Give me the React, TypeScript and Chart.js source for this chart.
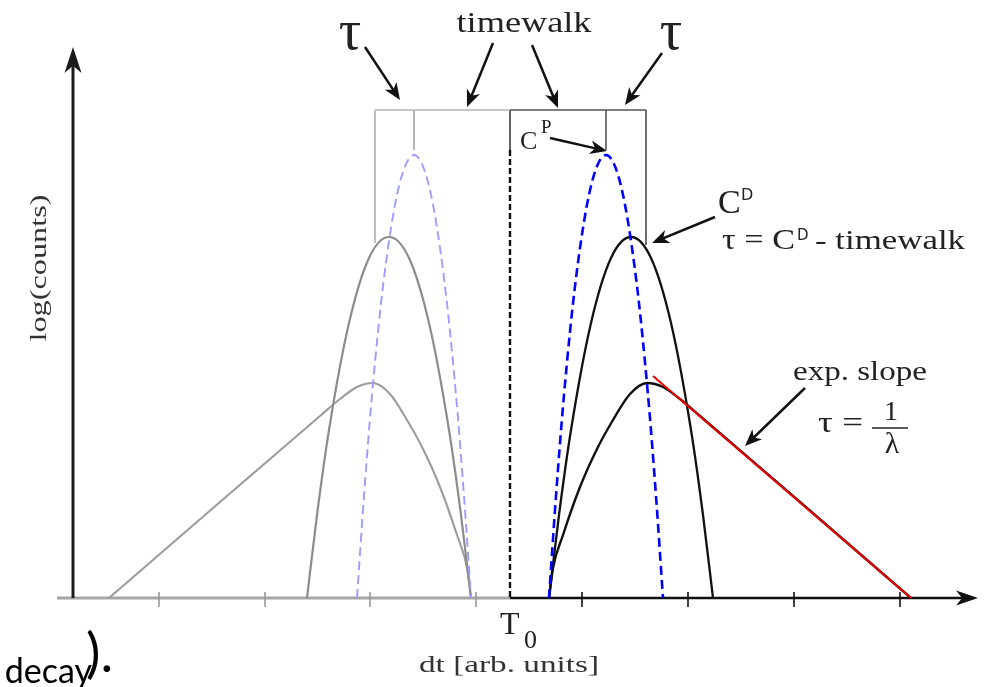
import React, { useEffect, useRef } from 'react';
import { Chart, registerables } from 'chart.js';

Chart.register(...registerables);

// ---- axis ranges (arb. units; T0 at 0) ----
const X_MIN = -5.1;
const X_MAX = 4.82;
const Y_MIN = -0.89;
const Y_MAX = 5.98;

const T0 = 0;
const X_TICKS = [-3.51, -2.45, -1.4, -0.34, 0.72, 1.78, 2.84, 3.9];
const X_AXIS_START = -4.53;
const X_AXIS_END = 4.68;
const Y_AXIS_X = -4.37;
const Y_AXIS_TOP = 5.51;

// ---- prompt (C^P) peak, blue dashed ----
const CP_X = [0.39, 0.46, 0.54, 0.66, 0.81, 0.96, 1.11, 1.26, 1.38, 1.46, 1.53];
const CP_Y = [0, 1.02, 2.03, 3.2, 4.12, 4.43, 4.12, 3.2, 2.03, 1.02, 0];
const CP_MIRROR_X = [-1.53, -1.46, -1.38, -1.26, -1.11, -0.96, -0.81, -0.66, -0.54, -0.46, -0.39];
const CP_MIRROR_Y = [0, 1.02, 2.03, 3.2, 4.12, 4.43, 4.12, 3.2, 2.03, 1.02, 0];

// ---- delayed (C^D) peak, black ----
const CD_X = [0.39, 0.49, 0.61, 0.81, 1.01, 1.21, 1.41, 1.61, 1.81, 1.93, 2.03];
const CD_Y = [0, 0.83, 1.68, 2.75, 3.4, 3.61, 3.4, 2.75, 1.68, 0.83, 0];
const CD_MIRROR_X = [-2.03, -1.93, -1.81, -1.61, -1.41, -1.21, -1.01, -0.81, -0.61, -0.49, -0.39];
const CD_MIRROR_Y = [0, 0.83, 1.68, 2.75, 3.4, 3.61, 3.4, 2.75, 1.68, 0.83, 0];

// ---- decay curve with exponential tail ----
const DECAY_X = [0.39, 0.43, 0.53, 0.7, 0.87, 1.03, 1.2, 1.37, 1.53, 1.7, 1.9, 2.9, 4.01];
const DECAY_Y = [0, 0.3, 0.63, 1.11, 1.49, 1.78, 2.04, 2.15, 2.11, 1.99, 1.82, 0.96, 0];
const DECAY_MIRROR_X = [-4.01, -2.9, -1.9, -1.7, -1.53, -1.37, -1.2, -1.03, -0.87, -0.7, -0.53, -0.43, -0.39];
const DECAY_MIRROR_Y = [0, 0.96, 1.82, 1.99, 2.11, 2.15, 2.04, 1.78, 1.49, 1.11, 0.63, 0.3, 0];

// ---- exponential slope fit ----
const SLOPE_X = [1.43, 4.01];
const SLOPE_Y = [2.22, 0];

// ---- brackets ----
const BRACKET_Y = 4.88;
const MARK_BOTTOM = 4.48;
const LEFT_BOX_X = -1.35;
const LEFT_BOX_BOTTOM = 3.55;
const LEFT_MARK_X = -0.96;
const RIGHT_BOX_X = 1.36;
const RIGHT_BOX_BOTTOM = 3.53;
const RIGHT_MARK_X = 0.96;

// ---- annotation arrows [from, to] ----
const ARROWS: number[][][] = [
  [[-1.45, 5.51], [-1.1, 4.98]],
  [[-0.17, 5.55], [-0.43, 4.91]],
  [[0.22, 5.53], [0.48, 4.9]],
  [[1.52, 5.45], [1.15, 4.93]],
  [[0.4, 4.6], [0.97, 4.47]],
  [[2.05, 3.81], [1.42, 3.55]],
  [[2.95, 2.1], [2.35, 1.52]],
];

const SERIF = '"Liberation Serif", "Times New Roman", serif';
const TEXT_COLOR = '#222';

function mk(xs: number[], ys: number[], color: string, width: number, dash: number[] = [], smooth = false) {
  return {
    data: xs.map((x, i) => ({ x, y: ys[i] })),
    borderColor: color,
    borderWidth: width,
    borderDash: dash,
    pointRadius: 0,
    fill: false,
    tension: 0,
    cubicInterpolationMode: smooth ? 'monotone' : 'default',
    borderCapStyle: 'butt',
  } as any;
}

function seg(ctx: CanvasRenderingContext2D, x1: number, y1: number, x2: number, y2: number, color: string, w: number) {
  ctx.save();
  ctx.strokeStyle = color;
  ctx.lineWidth = w;
  ctx.lineCap = 'butt';
  ctx.beginPath();
  ctx.moveTo(x1, y1);
  ctx.lineTo(x2, y2);
  ctx.stroke();
  ctx.restore();
}

function arrow(ctx: CanvasRenderingContext2D, x1: number, y1: number, x2: number, y2: number, color: string, w: number, len: number, half: number) {
  const dx = x2 - x1, dy = y2 - y1;
  const d = Math.hypot(dx, dy);
  const ux = dx / d, uy = dy / d;
  const nx = -uy, ny = ux;
  seg(ctx, x1, y1, x2 - ux * len * 0.7, y2 - uy * len * 0.7, color, w);
  ctx.save();
  ctx.fillStyle = color;
  ctx.beginPath();
  ctx.moveTo(x2, y2);
  ctx.lineTo(x2 - ux * len + nx * half, y2 - uy * len + ny * half);
  ctx.lineTo(x2 - ux * len * 0.72, y2 - uy * len * 0.72);
  ctx.lineTo(x2 - ux * len - nx * half, y2 - uy * len - ny * half);
  ctx.closePath();
  ctx.fill();
  ctx.restore();
}

function drawText(
  ctx: CanvasRenderingContext2D,
  s: string,
  x: number,
  y: number,
  font: string,
  o: { align?: string; width?: number; color?: string; rot?: number; baseline?: CanvasTextBaseline } = {}
) {
  ctx.save();
  ctx.font = font;
  ctx.fillStyle = o.color || TEXT_COLOR;
  ctx.textAlign = 'left';
  ctx.textBaseline = o.baseline || 'alphabetic';
  const w = ctx.measureText(s).width;
  const sx = o.width ? o.width / w : 1;
  ctx.translate(x, y);
  if (o.rot) ctx.rotate(o.rot);
  ctx.scale(sx, 1);
  const a = o.align || 'left';
  ctx.fillText(s, a === 'center' ? -w / 2 : a === 'right' ? -w : 0, 0);
  ctx.restore();
}

const annotPlugin = {
  id: 'annot',
  beforeDatasetsDraw(chart: any) {
    const ctx: CanvasRenderingContext2D = chart.ctx;
    const X = (v: number) => chart.scales.x.getPixelForValue(v);
    const Y = (v: number) => chart.scales.y.getPixelForValue(v);
    // x axis
    seg(ctx, X(X_AXIS_START), Y(0), X(T0), Y(0), '#a6a6a6', 3);
    arrow(ctx, X(T0), Y(0), X(X_AXIS_END), Y(0), '#111', 2.5, 22, 7.5);
    X_TICKS.forEach((t) => {
      seg(ctx, X(t), Y(0.06), X(t), Y(-0.09), t < T0 ? '#9a9a9a' : '#111', 1.6);
    });
    // y axis
    arrow(ctx, X(Y_AXIS_X), Y(0), X(Y_AXIS_X), Y(Y_AXIS_TOP), '#1a1a1a', 3, 26, 8.5);
  },
  afterDatasetsDraw(chart: any) {
    const ctx: CanvasRenderingContext2D = chart.ctx;
    const X = (v: number) => chart.scales.x.getPixelForValue(v);
    const Y = (v: number) => chart.scales.y.getPixelForValue(v);
    ARROWS.forEach(([a, b]) => arrow(ctx, X(a[0]), Y(a[1]), X(b[0]), Y(b[1]), '#111', 2.5, 17, 7));

    // top labels
    drawText(ctx, 'τ', X(-1.6), Y(5.49), `56px ${SERIF}`, { align: 'center' });
    drawText(ctx, 'τ', X(1.61), Y(5.49), `56px ${SERIF}`, { align: 'center' });
    drawText(ctx, 'timewalk', X(0.14), Y(5.66), `30px ${SERIF}`, { align: 'center', width: 135 });

    // C^P
    drawText(ctx, 'C', X(0.1), Y(4.49), `26px ${SERIF}`);
    drawText(ctx, 'P', X(0.31), Y(4.65), `19px ${SERIF}`);

    // C^D
    drawText(ctx, 'C', X(2.08), Y(3.85), `34px ${SERIF}`);
    drawText(ctx, 'D', X(2.31), Y(3.98), `16px "DejaVu Sans", sans-serif`);
    drawText(ctx, 'τ = C', X(2.12), Y(3.49), `30px ${SERIF}`, { width: 73 });
    drawText(ctx, 'D', X(2.87), Y(3.58), `15px "DejaVu Sans", sans-serif`);
    drawText(ctx, '- timewalk', X(3.05), Y(3.49), `28px ${SERIF}`, { width: 150 });

    // exp slope
    drawText(ctx, 'exp. slope', X(3.5), Y(2.18), `28px ${SERIF}`, { align: 'center', width: 134 });
    drawText(ctx, 'τ =', X(3.08), Y(1.66), `30px ${SERIF}`, { width: 45 });
    drawText(ctx, '1', X(3.81), Y(1.78), `28px ${SERIF}`, { align: 'center' });
    seg(ctx, X(3.62), Y(1.7), X(3.98), Y(1.7), '#222', 1.6);
    drawText(ctx, 'λ', X(3.82), Y(1.45), `30px ${SERIF}`, { align: 'center' });

    // axis labels
    drawText(ctx, 'log(counts)', X(-4.7), Y(3.3), `24px ${SERIF}`, {
      align: 'center', width: 147, rot: -Math.PI / 2, baseline: 'middle', color: '#333',
    });
    drawText(ctx, 'T', X(-0.1), Y(-0.36), `32px ${SERIF}`);
    drawText(ctx, '0', X(0.14), Y(-0.5), `26px ${SERIF}`);
    drawText(ctx, 'dt [arb. units]', X(-0.01), Y(-0.74), `24px ${SERIF}`, { align: 'center', width: 180, color: '#333' });

    // clipped caption fragment
    drawText(ctx, 'decay', X(-4.18), Y(-0.85), `34px Lato, "Open Sans", sans-serif`, { align: 'right', color: '#000' });
    drawText(ctx, ').', X(-4.24), Y(-0.74), `54px Lato, "Open Sans", sans-serif`, { color: '#000' });
  },
};

export default function App() {
  const ref = useRef<HTMLCanvasElement | null>(null);
  useEffect(() => {
    if (!ref.current) return;
    const datasets = [
      mk(SLOPE_X, SLOPE_Y, '#ee0000', 2),
      mk(CP_X, CP_Y, '#0000ff', 2.6, [9, 5], true),
      mk(CD_X, CD_Y, '#111', 2.3, [], true),
      mk(DECAY_X, DECAY_Y, '#111', 2.4, [], true),
      mk(CP_MIRROR_X, CP_MIRROR_Y, '#9c9cff', 1.9, [9, 5], true),
      mk(CD_MIRROR_X, CD_MIRROR_Y, '#8c8c8c', 2.2, [], true),
      mk(DECAY_MIRROR_X, DECAY_MIRROR_Y, '#9c9c9c', 2.1, [], true),
      // brackets
      mk([LEFT_BOX_X, T0], [BRACKET_Y, BRACKET_Y], '#b4b4b4', 1.6),
      mk([LEFT_BOX_X, LEFT_BOX_X], [BRACKET_Y, LEFT_BOX_BOTTOM], '#a8a8a8', 1.5),
      mk([LEFT_MARK_X, LEFT_MARK_X], [BRACKET_Y, MARK_BOTTOM], '#a0a0a0', 1.6),
      mk([T0, RIGHT_BOX_X], [BRACKET_Y, BRACKET_Y], '#555', 1.6),
      mk([RIGHT_BOX_X, RIGHT_BOX_X], [BRACKET_Y, RIGHT_BOX_BOTTOM], '#333', 1.4),
      mk([RIGHT_MARK_X, RIGHT_MARK_X], [BRACKET_Y, MARK_BOTTOM], '#777', 2),
      mk([T0, T0], [BRACKET_Y, MARK_BOTTOM], '#555', 1.8),
      mk([T0, T0], [MARK_BOTTOM, 0], '#111', 2.4, [6, 3]),
    ];
    const chart = new Chart(ref.current, {
      type: 'line',
      data: { datasets },
      options: {
        animation: false,
        responsive: false,
        devicePixelRatio: 1,
        events: [],
        layout: { padding: 0 },
        plugins: { legend: { display: false }, tooltip: { enabled: false }, title: { display: false } },
        scales: {
          x: { type: 'linear', display: false, min: X_MIN, max: X_MAX },
          y: { type: 'linear', display: false, min: Y_MIN, max: Y_MAX },
        },
      },
      plugins: [annotPlugin],
    } as any);
    return () => chart.destroy();
  }, []);
  return (
    <div style={{ position: 'absolute', left: 0, top: 0, width: 992, height: 687, background: '#fff' }}>
      <canvas ref={ref} width={992} height={687} />
    </div>
  );
}
